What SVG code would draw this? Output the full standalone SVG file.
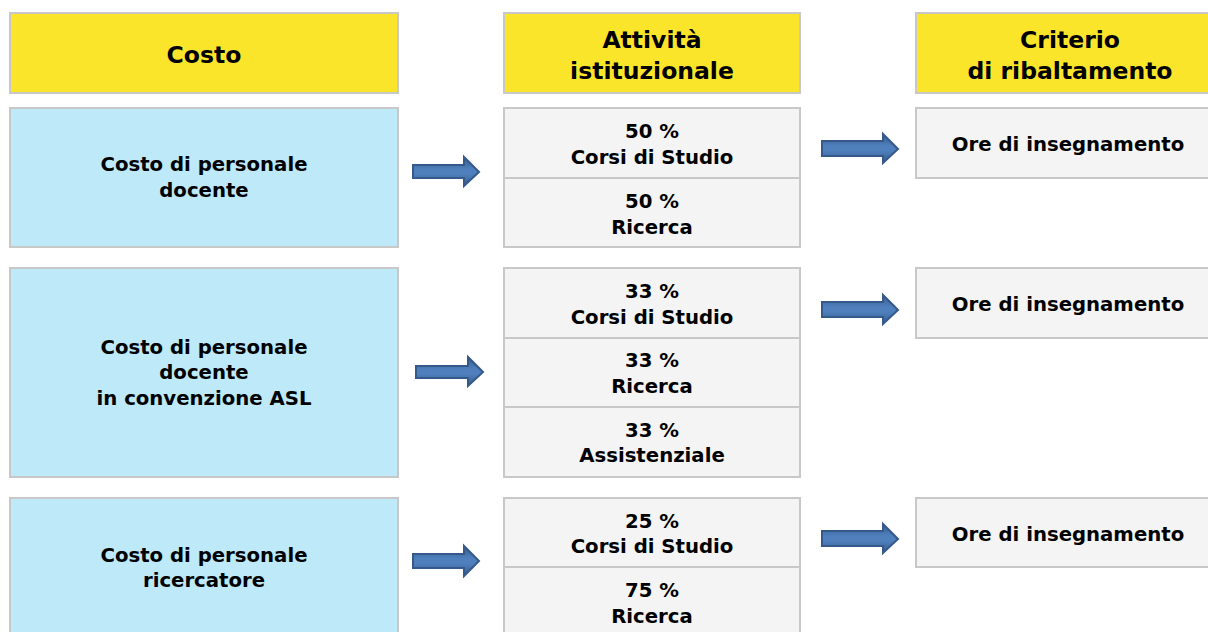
<svg xmlns="http://www.w3.org/2000/svg" width="1208" height="632" viewBox="0 0 1208 632">
<defs>
<linearGradient id="ag" x1="0" y1="0" x2="0" y2="1">
<stop offset="0" stop-color="#355b8a"/>
<stop offset="0.42" stop-color="#4f80bd"/>
<stop offset="0.58" stop-color="#4f80bd"/>
<stop offset="1" stop-color="#355b8a"/>
</linearGradient>
</defs>
<style>
.hdr{fill:#fbe52b;stroke:#c8c8c8;stroke-width:2}
.cost{fill:#bde9f8;stroke:#c8c8c8;stroke-width:2}
.cell{fill:#f4f4f4;stroke:#c8c8c8;stroke-width:2}
text{font-family:"DejaVu Sans","Verdana",sans-serif;font-weight:bold;fill:#000;text-anchor:middle}
.h{font-size:23.5px}
.t{font-size:19.7px}
.arr{fill:url(#ag);stroke:#34598a;stroke-width:2}
</style>
<rect width="1208" height="632" fill="#fff"/>
<g id="hdr-costo"><rect class="hdr" x="10" y="13" width="388" height="80"/><text class="h" x="204" y="63">Costo</text></g>
<g id="hdr-attivita"><rect class="hdr" x="504" y="13" width="296" height="80"/><text class="h" x="652" y="48">Attività</text><text class="h" x="652" y="79">istituzionale</text></g>
<g id="hdr-criterio"><rect class="hdr" x="916" y="13" width="310" height="80"/><text class="h" x="1070" y="48">Criterio</text><text class="h" x="1070" y="79">di ribaltamento</text></g>

<g id="cost1"><rect class="cost" x="10" y="108" width="388" height="139"/><text class="t" x="204" y="171">Costo di personale</text><text class="t" x="204" y="197">docente</text></g>
<g id="act1a"><rect class="cell" x="504" y="108" width="296" height="70"/><text class="t" x="652" y="138">50 %</text><text class="t" x="652" y="164">Corsi di Studio</text></g>
<g id="act1b"><rect class="cell" x="504" y="178" width="296" height="69"/><text class="t" x="652" y="208">50 %</text><text class="t" x="652" y="234">Ricerca</text></g>
<g id="crit1"><rect class="cell" x="916" y="108" width="310" height="70"/><text class="t" x="1068" y="151">Ore di insegnamento</text></g>

<g id="cost2"><rect class="cost" x="10" y="268" width="388" height="209"/><text class="t" x="204" y="354">Costo di personale</text><text class="t" x="204" y="379">docente</text><text class="t" x="204" y="405">in convenzione ASL</text></g>
<g id="act2a"><rect class="cell" x="504" y="268" width="296" height="70"/><text class="t" x="652" y="298">33 %</text><text class="t" x="652" y="324">Corsi di Studio</text></g>
<g id="act2b"><rect class="cell" x="504" y="338" width="296" height="69"/><text class="t" x="652" y="367">33 %</text><text class="t" x="652" y="393">Ricerca</text></g>
<g id="act2c"><rect class="cell" x="504" y="407" width="296" height="70"/><text class="t" x="652" y="437">33 %</text><text class="t" x="652" y="462">Assistenziale</text></g>
<g id="crit2"><rect class="cell" x="916" y="268" width="310" height="70"/><text class="t" x="1068" y="311">Ore di insegnamento</text></g>

<g id="cost3"><rect class="cost" x="10" y="498" width="388" height="150"/><text class="t" x="204" y="562">Costo di personale</text><text class="t" x="204" y="587">ricercatore</text></g>
<g id="act3a"><rect class="cell" x="504" y="498" width="296" height="69"/><text class="t" x="652" y="528">25 %</text><text class="t" x="652" y="553">Corsi di Studio</text></g>
<g id="act3b"><rect class="cell" x="504" y="567" width="296" height="80"/><text class="t" x="652" y="597">75 %</text><text class="t" x="652" y="623">Ricerca</text></g>
<g id="crit3"><rect class="cell" x="916" y="498" width="310" height="69"/><text class="t" x="1068" y="541">Ore di insegnamento</text></g>

<g id="connectors">
<path class="arr" d="M413 165 H464 V157 L479 172 L464 186 V178 H413 Z"/>
<path class="arr" d="M822 141 H883 V134 L898 149 L883 163 V156 H822 Z"/>
<path class="arr" d="M416 366 H468 V357 L483 372 L468 386 V378 H416 Z"/>
<path class="arr" d="M822 302 H883 V295 L898 310 L883 324 V317 H822 Z"/>
<path class="arr" d="M413 554 H464 V546 L479 561 L464 576 V568 H413 Z"/>
<path class="arr" d="M822 531 H883 V524 L898 539 L883 553 V546 H822 Z"/>
</g>
</svg>
